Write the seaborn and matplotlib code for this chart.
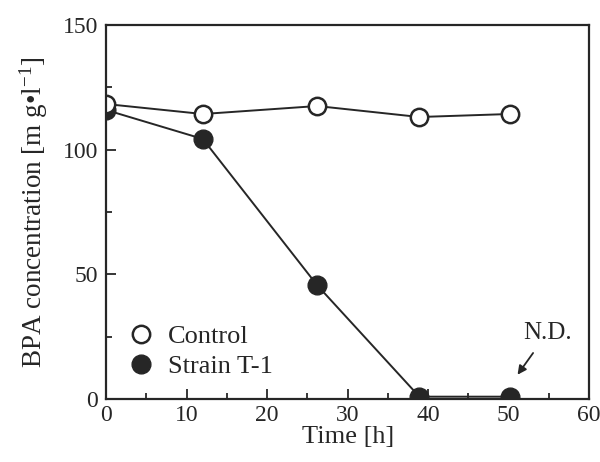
import matplotlib
matplotlib.use("Agg")
import matplotlib.pyplot as plt
import pandas as pd
import seaborn as sns

# values
time_h = [0, 12, 26.2, 38.9, 50.1]
control = [118.3, 114.3, 117.5, 113.1, 114.3]
strain_t1 = [115.9, 104.3, 45.7, 1.0, 1.0]

INK = "#262626"

sns.set_style("ticks")
plt.rcParams["font.family"] = ["Liberation Serif", "DejaVu Serif"]
plt.rcParams["mathtext.fontset"] = "custom"
plt.rcParams["mathtext.rm"] = "Liberation Serif"
plt.rcParams["mathtext.it"] = "Liberation Serif:italic"

df = pd.DataFrame({"time": time_h, "control": control, "strain": strain_t1})

fig = plt.figure(figsize=(6.0, 4.62), dpi=100)
ax = fig.add_axes([0.177, 0.136, 0.805, 0.810])

# strain first so the open control circle sits on top at t=0
sns.lineplot(data=df, x="time", y="strain", ax=ax, color=INK, linewidth=1.4,
             marker="o", markersize=13.5, markerfacecolor=INK,
             markeredgecolor=INK, markeredgewidth=1.0, label="Strain T-1")
sns.lineplot(data=df, x="time", y="control", ax=ax, color=INK, linewidth=1.4,
             marker="o", markersize=12.5, markerfacecolor="white",
             markeredgecolor=INK, markeredgewidth=1.8, label="Control")

ax.set_xlim(0, 60)
ax.set_ylim(0, 150)
ax.set_xticks([0, 10, 20, 30, 40, 50, 60])
ax.set_xticks(range(5, 60, 10), minor=True)
ax.set_yticks([0, 50, 100, 150])
ax.set_yticks([25, 75, 125], minor=True)
ax.tick_params(which="both", direction="in", color=INK, width=1.3,
               labelsize=17, labelcolor=INK)
ax.tick_params(which="major", length=7)
ax.tick_params(which="minor", length=4)
ax.tick_params(axis="y", pad=6)
ax.tick_params(axis="x", pad=4)
for sp in ax.spines.values():
    sp.set_linewidth(1.6)
    sp.set_color(INK)

ax.set_xlabel("Time [h]", fontsize=19, color=INK, labelpad=0)
ax.set_ylabel("BPA concentration [m g\u2022l$^{-1}$]",
              fontsize=19.5, color=INK, labelpad=9)

handles, labels = ax.get_legend_handles_labels()
order = [labels.index("Control"), labels.index("Strain T-1")]
ax.legend([handles[i] for i in order], [labels[i] for i in order],
          loc="lower left", bbox_to_anchor=(0.0, 0.0), frameon=False,
          fontsize=19, handlelength=1.0, handletextpad=0.55,
          labelspacing=0.25, borderaxespad=0.4, labelcolor=INK)
for h in ax.get_legend().get_lines():
    h.set_linestyle("none")

ax.annotate("N.D.", xy=(51.1, 9.8), xytext=(54.8, 26.5), fontsize=18,
            color=INK, ha="center", va="center",
            arrowprops=dict(arrowstyle="-|>", color=INK, lw=1.3,
                            shrinkA=5, shrinkB=0, mutation_scale=13))

fig.savefig("out.png", dpi=100)
